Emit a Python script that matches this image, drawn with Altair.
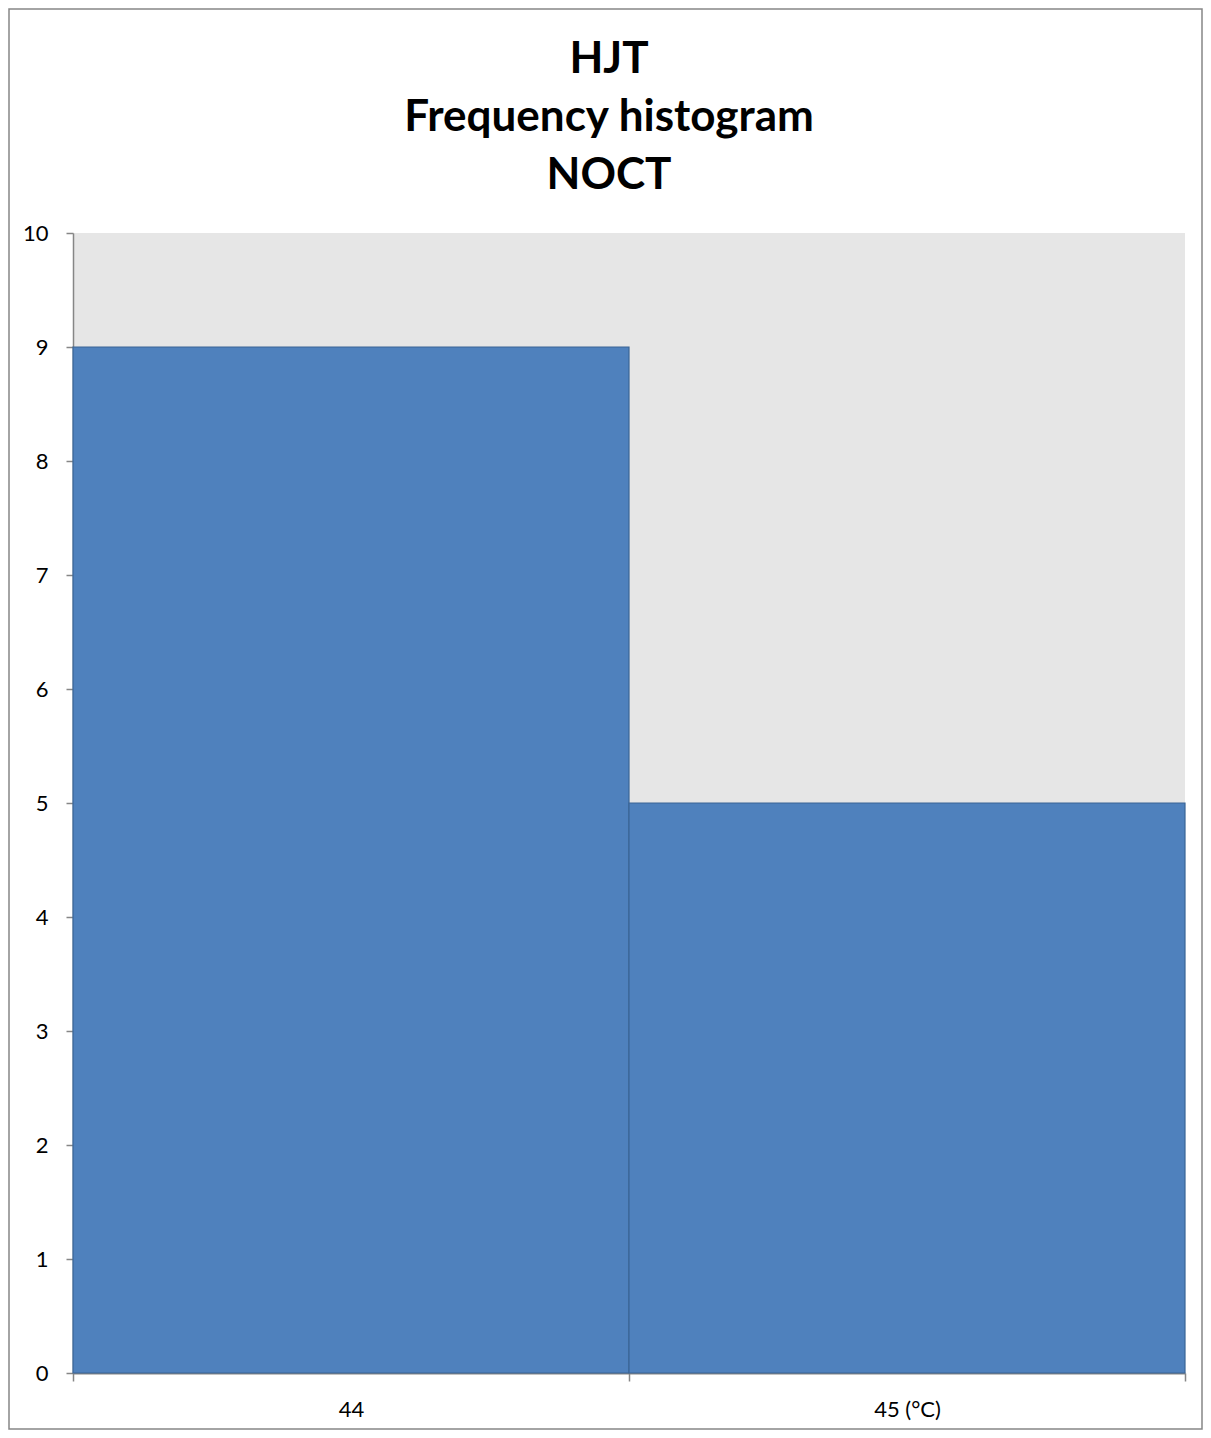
import altair as alt
import pandas as pd

categories = ["44", "45 (°C)"]
counts = [9, 5]
title_lines = ["HJT", "Frequency histogram", "NOCT"]
y_ticks = list(range(0, 11))

W, H = 1112, 1140
df = pd.DataFrame({"bin": categories, "count": counts})

axis_gray = "#868686"

bars = alt.Chart(df).mark_bar(
    color="#4F81BD", stroke="#3A6596", strokeWidth=1.2
).encode(
    x=alt.X(
        "bin:N",
        sort=categories,
        scale=alt.Scale(paddingInner=0, paddingOuter=0),
        axis=alt.Axis(
            title=None, labelAngle=0, tickBand="extent",
            domainColor=axis_gray, domainWidth=2, tickColor=axis_gray, tickWidth=1.5,
            tickSize=8, labelPadding=18, labelFont="Lato", labelFontSize=22,
            labelColor="#000000", grid=False,
        ),
    ),
    y=alt.Y(
        "count:Q",
        scale=alt.Scale(domain=[0, 10], nice=False),
        axis=alt.Axis(
            title=None, values=y_ticks, format="d",
            domainColor=axis_gray, domainWidth=1.5, tickColor=axis_gray, tickWidth=1.5,
            tickSize=7, labelPadding=18, labelFont="Lato", labelFontSize=22,
            labelColor="#000000", grid=False,
        ),
    ),
)

border = alt.Chart(pd.DataFrame({"a": [0]})).mark_rect(
    fillOpacity=0, stroke=axis_gray, strokeWidth=1.5
).encode(
    x=alt.value(-64), x2=alt.value(W + 17),
    y=alt.value(-224), y2=alt.value(H + 56),
)

chart = alt.layer(bars, border).properties(
    width=W,
    height=H,
    title=alt.TitleParams(
        text=title_lines, font="Lato", fontSize=44, fontWeight="bold",
        lineHeight=58, anchor="middle", dx=-20, offset=-190, color="#000000",
    ),
    autosize=alt.AutoSizeParams(type="none"),
    padding={"left": 65, "top": 225, "right": 18, "bottom": 57},
).configure_view(fill="#E6E6E6", strokeWidth=0)

chart.save("out.html", embed_options={"renderer": "svg", "actions": False})
